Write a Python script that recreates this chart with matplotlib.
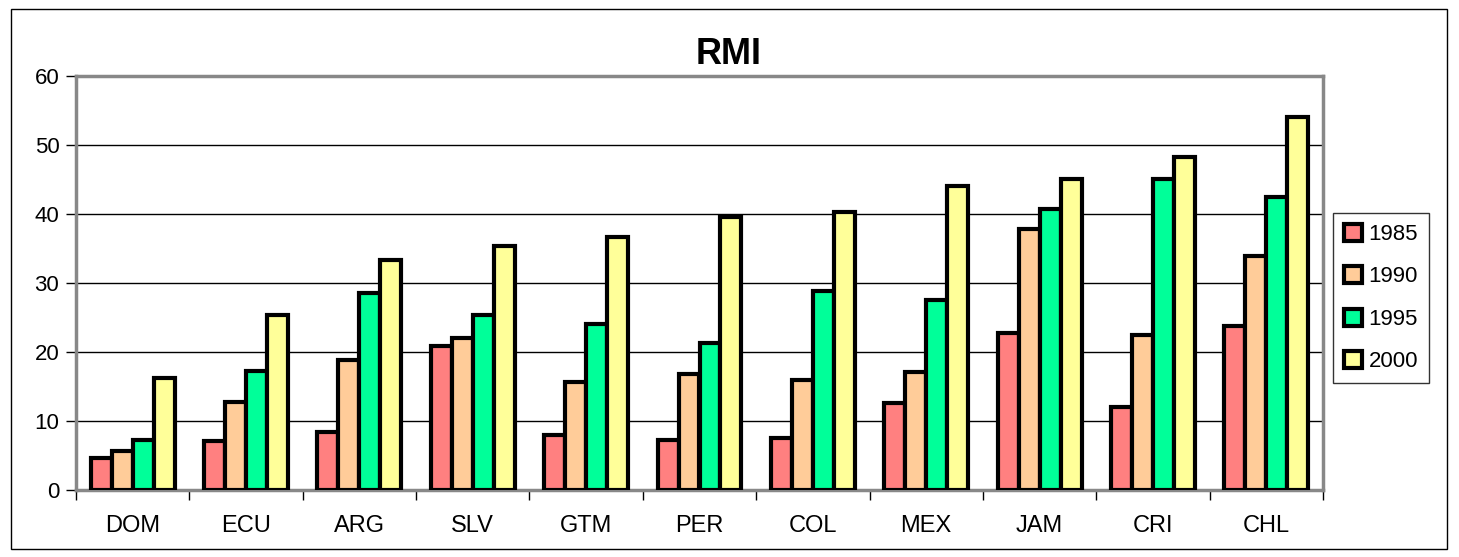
import numpy as np
import matplotlib
matplotlib.use('Agg')
from matplotlib import pyplot as plt
from matplotlib.patches import Rectangle

plt.rcParams['font.family'] = ['Liberation Sans', 'DejaVu Sans']

# 数据
countries = ['DOM', 'ECU', 'ARG', 'SLV', 'GTM', 'PER', 'COL', 'MEX', 'JAM', 'CRI', 'CHL']
years = ['1985', '1990', '1995', '2000']
v1985 = [4.6, 7.1, 8.4, 20.8, 8.0, 7.2, 7.6, 12.6, 22.7, 12.1, 23.7]
v1990 = [5.7, 12.8, 18.9, 22.0, 15.6, 16.8, 15.9, 17.1, 37.8, 22.4, 33.9]
v1995 = [7.3, 17.3, 28.5, 25.4, 24.0, 21.3, 28.9, 27.5, 40.7, 45.1, 42.5]
v2000 = [16.3, 25.3, 33.4, 35.3, 36.6, 39.6, 40.3, 44.0, 45.1, 48.3, 54.0]
colors = ['#FF8080', '#FFCC99', '#00FF99', '#FFFF99']

W, H = 1459, 557
fig = plt.figure(figsize=(W / 100, H / 100), dpi=100)

# 外边框
fig.patches.append(Rectangle((11 / W, 8 / H), 1436 / W, 540 / H, transform=fig.transFigure,
                             fill=False, edgecolor='black', linewidth=1))

ax = fig.add_axes([76 / W, (H - 490) / H, (1323 - 76) / W, (490 - 76) / H])

x = np.arange(len(countries))
bw = 0.185
series = [v1985, v1990, v1995, v2000]
for i, vals in enumerate(series):
    ax.bar(x + (i - 1.5) * bw, vals, width=bw, color=colors[i], edgecolor='black',
           linewidth=3, label=years[i], zorder=3)

ax.set_xlim(-0.5, len(countries) - 0.5)
ax.set_ylim(0, 60)
ax.set_yticks(range(0, 61, 10))
ax.yaxis.grid(True, color='black', linewidth=1)
ax.set_axisbelow(True)

ax.set_xticks(x)
ax.set_xticklabels(countries)
ax.set_xticks(np.arange(-0.5, len(countries), 1), minor=True)
ax.tick_params(axis='x', which='major', length=0, pad=18, labelsize=17)
ax.tick_params(axis='x', which='minor', length=7, width=1, color='black', direction='out')
ax.tick_params(axis='y', length=7, width=1, color='black', labelsize=16, pad=5)

for s in ax.spines.values():
    s.set_color('#888888')
    s.set_linewidth(2.5)

fig.text(729 / W, 1 - 54 / H, 'RMI', ha='center', va='center', fontsize=26, fontweight='bold')

leg = ax.legend(loc='center', bbox_to_anchor=(1381 / W, 1 - 298 / H), bbox_transform=fig.transFigure,
                fontsize=16, frameon=True, fancybox=False, handlelength=0.8, handleheight=0.8,
                labelspacing=0.95, handletextpad=0.3, borderpad=0.5, borderaxespad=0)
leg.get_frame().set_edgecolor('black')
leg.get_frame().set_linewidth(1)
for p in leg.get_patches():
    p.set_linewidth(3)

fig.savefig('out.png', dpi=100)
